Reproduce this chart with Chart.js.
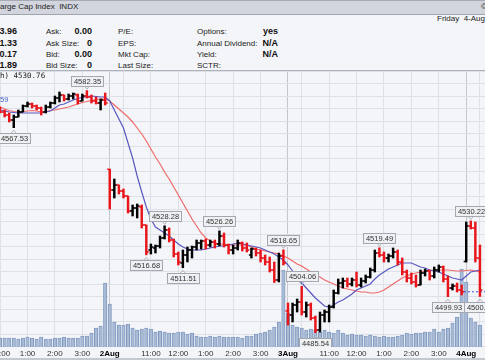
<!DOCTYPE html>
<html><head><meta charset="utf-8">
<script src="https://cdn.jsdelivr.net/npm/chart.js@4.4.1/dist/chart.umd.min.js"></script>
<style>
html,body{margin:0;padding:0;width:485px;height:360px;overflow:hidden;background:#f4f5f8;font-family:"Liberation Sans",Arial,sans-serif;}
#hdr{position:absolute;left:0;top:0;width:485px;height:13px;background:#d2d5dd;border-top:1px solid #a6aab3;border-bottom:1px solid #9fa4ad;}
.t{position:absolute;white-space:nowrap;color:#222;line-height:1;}
.l{font-size:8px;}
.v{font-size:9px;font-weight:bold;color:#111;text-align:right;width:40px;}
#sep{position:absolute;left:0;top:70px;width:485px;height:1px;background:#aeb2ba;}
#c{position:absolute;left:0;top:71px;}
#bot{position:absolute;left:0;top:358px;width:485px;height:2px;background:#c4c8d0;}
</style></head><body>
<div id="hdr"></div>
<div class="t l" style="left:0;top:3px;">arge Cap Index&nbsp;&nbsp;INDX</div>
<div class="t l" style="left:481px;top:3px;">©</div>
<div class="t l" style="left:437px;top:15px;">Friday&nbsp;&nbsp;4-Aug</div>

<div class="t v" style="left:-23px;top:27px;">3.96</div>
<div class="t v" style="left:-23px;top:39px;">1.33</div>
<div class="t v" style="left:-23px;top:50px;">0.17</div>
<div class="t v" style="left:-23px;top:61px;">1.89</div>

<div class="t l" style="left:46px;top:27.5px;">Ask:</div>
<div class="t l" style="left:46px;top:39.5px;">Ask Size:</div>
<div class="t l" style="left:46px;top:50.5px;">Bid:</div>
<div class="t l" style="left:46px;top:61.5px;">Bid Size:</div>
<div class="t v" style="left:52px;top:27px;">0.00</div>
<div class="t v" style="left:52px;top:39px;">0</div>
<div class="t v" style="left:52px;top:50px;">0.00</div>
<div class="t v" style="left:52px;top:61px;">0</div>

<div class="t l" style="left:118px;top:27.5px;">P/E:</div>
<div class="t l" style="left:118px;top:39.5px;">EPS:</div>
<div class="t l" style="left:118px;top:50.5px;">Mkt Cap:</div>
<div class="t l" style="left:118px;top:61.5px;">Last Size:</div>

<div class="t l" style="left:197px;top:27.5px;">Options:</div>
<div class="t l" style="left:197px;top:39.5px;">Annual Dividend:</div>
<div class="t l" style="left:197px;top:50.5px;">Yield:</div>
<div class="t l" style="left:197px;top:61.5px;">SCTR:</div>
<div class="t v" style="left:238px;top:27px;">yes</div>
<div class="t v" style="left:238px;top:39px;">N/A</div>
<div class="t v" style="left:238px;top:50px;">N/A</div>

<div id="sep"></div>
<canvas id="c" width="485" height="289"></canvas>
<div class="t" style="left:0;top:72px;font-size:7.5px;font-family:'DejaVu Sans Mono',monospace;color:#222;">h) 4530.76</div>
<div class="t" style="left:0;top:96px;font-size:7.5px;color:#4a67c8;">59</div>
<div id="bot"></div>
<script>
// ---- data (10-minute bars; slot 0 = 2-Aug 9:30) ----
const FIRST_BAR = -25;
const BARS_PER_DAY = 39;
const BARS_PER_HOUR = 6;
const dayLabels = ['1Aug', '2Aug', '3Aug', '4Aug'];
const dayNumbers = [-1, 0, 1, 2];
const hourLabels = ['', '11:00', '12:00', '1:00', '2:00', '3:00'];
const hoursAfterOpen = [0.5, 1.5, 2.5, 3.5, 4.5, 5.5];

const opens = [
 4575.4,4575.0,4573.8,4572.6,4570.6,4571.8,4573.8,4576.2,4577.0,4576.2,4575.4,4573.8,4575.8,4577.4,4579.4,4580.6,4579.0,4580.2,4580.6,4578.2,4580.2,4579.8,4578.2,4577.4,4578.6,
 4550.9,4542.6,4544.6,4542.2,4540.2,4534.2,4535.4,4535.8,4528.6,4518.6,4519.4,4520.2,4523.4,4526.6,4522.6,4517.0,4513.4,4516.6,4518.6,4519.8,4521.4,4522.2,4520.6,4521.8,4521.0,4524.2,4520.6,4518.6,4519.4,4521.4,4519.4,4516.6,4519.0,4517.4,4515.4,4513.8,4510.6,4506.6,4516.2,
 4494.2,4492.6,4496.6,4497.8,4493.8,4496.6,4491.4,4486.6,4492.6,4493.8,4495.8,4501.4,4505.4,4506.2,4505.0,4506.6,4504.6,4506.2,4507.8,4510.6,4517.4,4516.6,4515.4,4516.2,4517.8,4513.8,4509.8,4507.4,4505.8,4504.6,4509.4,4510.2,4508.2,4510.6,4511.8,4507.0,4503.4,4504.2,4502.6,
 4513.96,4528.2,4527.4,4515.4];
const highs = [
 4576.6,4575.8,4574.6,4573.4,4572.6,4574.6,4576.6,4577.8,4577.4,4576.6,4575.8,4576.6,4577.8,4580.2,4581.8,4580.6,4581.0,4581.4,4581.0,4581.0,4582.35,4580.6,4579.8,4579.0,4581.4,
 4550.9,4547.0,4544.6,4543.0,4540.2,4536.6,4537.0,4536.6,4528.6,4521.0,4520.6,4524.2,4528.28,4527.4,4523.0,4517.8,4518.6,4519.8,4520.2,4522.6,4522.6,4523.0,4522.6,4522.6,4526.26,4525.4,4521.0,4520.6,4522.6,4521.8,4521.4,4519.4,4519.4,4518.6,4516.6,4515.8,4513.8,4517.4,4518.65,
 4497.4,4497.4,4499.0,4504.06,4497.8,4497.4,4492.2,4493.8,4494.6,4496.6,4502.6,4507.0,4507.4,4507.4,4507.4,4509.8,4507.4,4508.6,4511.4,4518.6,4519.49,4517.8,4517.0,4519.4,4518.6,4515.4,4510.6,4509.4,4508.6,4510.6,4511.0,4510.6,4511.8,4512.6,4512.2,4508.2,4505.0,4505.4,4504.6,
 4529.8,4530.22,4529.8,4520.6];
const lows = [
 4573.8,4573.4,4571.8,4569.8,4567.53,4571.8,4573.8,4575.8,4575.4,4574.6,4572.6,4573.4,4575.4,4577.0,4577.8,4578.2,4578.6,4579.0,4577.0,4578.2,4579.4,4577.4,4577.0,4574.6,4576.6,
 4535.0,4539.4,4541.0,4539.4,4533.4,4532.2,4531.4,4527.4,4516.68,4517.0,4517.4,4519.4,4523.0,4521.8,4515.8,4512.6,4511.51,4513.8,4515.4,4518.6,4519.0,4519.0,4519.8,4519.4,4520.2,4519.8,4517.0,4517.0,4518.6,4518.2,4517.8,4515.4,4516.2,4513.8,4512.6,4509.8,4505.6,4505.8,4512.6,
 4488.6,4489.8,4493.8,4492.6,4491.8,4490.6,4485.54,4485.8,4489.8,4489.8,4495.4,4501.0,4503.4,4503.8,4504.2,4503.8,4503.8,4505.4,4507.4,4509.8,4515.8,4513.8,4513.8,4515.4,4512.6,4508.6,4505.8,4505.0,4503.8,4504.6,4508.2,4506.6,4507.4,4509.8,4505.8,4499.93,4502.6,4501.8,4500.6,
 4513.8,4527.0,4513.8,4500.0];
const closes = [
 4574.6,4573.8,4572.6,4570.6,4571.8,4573.8,4576.2,4577.0,4576.2,4575.4,4573.8,4575.8,4577.4,4579.4,4580.6,4579.0,4580.2,4581.0,4578.2,4580.2,4579.8,4578.2,4577.4,4578.6,4577.4,
 4542.6,4544.6,4542.2,4540.2,4534.2,4535.4,4536.2,4528.6,4517.8,4519.8,4520.2,4523.4,4526.6,4522.6,4517.0,4513.8,4516.6,4518.6,4519.8,4521.4,4522.2,4520.6,4521.8,4521.0,4524.2,4520.6,4518.6,4519.4,4521.4,4519.4,4518.6,4519.0,4517.4,4515.4,4513.8,4510.6,4506.6,4516.2,4513.4,
 4492.6,4496.6,4497.8,4493.8,4496.6,4491.4,4486.6,4492.6,4493.8,4495.8,4501.4,4505.4,4506.2,4505.0,4506.6,4504.6,4506.2,4507.8,4510.6,4517.4,4516.6,4515.4,4516.2,4517.8,4513.8,4509.8,4507.4,4505.8,4504.6,4509.4,4510.2,4508.2,4510.6,4511.8,4507.0,4503.4,4504.2,4502.6,4501.89,
 4528.2,4527.4,4515.4,4502.6];
const volumes = [
 18,18,18,18,18,16,18,20,18,16,20,16,16,18,18,20,18,18,18,22,22,28,38,42,128,
 86,50,44,44,46,38,34,36,38,36,30,32,30,28,28,30,30,26,28,22,20,20,22,20,22,20,20,20,20,18,22,22,26,28,30,34,40,50,154,
 68,44,40,38,34,36,34,30,34,30,28,34,28,24,26,24,24,22,24,22,20,22,20,20,22,24,28,26,28,28,30,30,36,30,36,38,48,60,156,
 130,58,50,44];
const maFast = [
 4575.0,4574.6,4574.2,4573.8,4573.6,4573.4,4573.4,4573.4,4573.4,4573.4,4573.4,4573.8,4574.2,4575.4,4576.6,4577.0,4577.8,4578.6,4579.2,4579.6,4580.0,4580.2,4580.0,4579.8,4579.8,
 4578.2,4574.6,4571.0,4567.4,4561.4,4555.4,4548.2,4541.8,4535.8,4531.0,4527.8,4526.6,4525.4,4524.2,4522.6,4521.0,4519.8,4519.0,4518.6,4518.6,4518.6,4519.0,4519.4,4519.8,4520.2,4520.2,4520.6,4521.0,4521.4,4521.0,4520.6,4520.2,4519.8,4519.4,4518.6,4517.8,4517.0,4515.8,4514.6,
 4512.6,4510.2,4507.4,4505.4,4503.4,4501.4,4499.4,4497.8,4496.2,4495.8,4496.6,4497.8,4498.6,4499.8,4501.0,4502.6,4503.4,4504.2,4505.0,4507.0,4508.6,4509.8,4511.0,4511.8,4512.6,4513.4,4513.4,4513.4,4512.6,4511.8,4511.4,4510.6,4510.2,4509.8,4509.0,4508.2,4507.4,4507.0,4506.6,
 4508.2,4509.8,4510.2,4510.6];
const maSlow = [
 4576.2,4575.8,4575.0,4574.4,4574.0,4573.8,4574.0,4574.2,4574.4,4574.2,4573.8,4574.0,4574.4,4574.6,4575.0,4575.4,4575.8,4576.4,4577.0,4577.6,4578.0,4578.4,4578.8,4579.0,4579.0,
 4578.2,4576.6,4575.0,4573.4,4571.8,4569.8,4567.4,4565.0,4562.2,4559.0,4555.8,4553.0,4549.8,4547.0,4543.8,4540.6,4537.4,4534.2,4531.0,4528.2,4525.4,4523.4,4522.2,4521.4,4521.0,4521.0,4520.6,4520.6,4520.6,4520.6,4520.6,4519.8,4519.0,4518.6,4518.2,4517.8,4517.4,4517.0,4516.2,
 4515.4,4514.2,4513.0,4512.2,4511.0,4509.8,4508.6,4507.8,4506.6,4505.8,4505.0,4504.2,4503.4,4503.0,4502.6,4502.2,4501.8,4501.8,4501.4,4501.4,4501.8,4502.6,4503.8,4505.0,4506.2,4507.4,4508.2,4509.0,4509.4,4509.8,4510.2,4510.4,4510.6,4510.6,4510.6,4510.6,4510.4,4510.2,4510.2,
 4510.4,4510.6,4510.2,4509.8];
const prevClose = 4501.89;
const calloutBars   = [-5, -21, 12, 8, 16, 24, 38, 42, 45, 59, 74, 79, 81];
const calloutValues = [4582.35, 4567.53, 4528.28, 4516.68, 4511.51, 4526.26, 4518.65, 4504.06, 4485.54, 4519.49, 4499.93, 4530.22, 4500.00];
const calloutSides  = ['high','low','high','low','low','high','high','high','low','high','low','high','low'];

// ---- build ----
const RED = '#e8151b', BLK = '#000000';
const slots = opens.map((_, i) => FIRST_BAR + i);
const barColors = closes.map((c, i) => (i === 0 ? c >= opens[0] : c >= closes[i - 1]) ? BLK : RED);

const tickVals = [], tickLbls = [], tickIsDay = [];
dayNumbers.forEach((d, k) => {
  tickVals.push(d * BARS_PER_DAY); tickLbls.push(dayLabels[k]); tickIsDay.push(true);
  hoursAfterOpen.forEach((h, j) => {
    tickVals.push(d * BARS_PER_DAY + h * BARS_PER_HOUR); tickLbls.push(hourLabels[j]); tickIsDay.push(false);
  });
});
const X_MIN = -24.015, X_MAX = 82.11;
const keep = tickVals.map(v => v >= X_MIN - 3 && v <= X_MAX + 3);
const tv = tickVals.filter((_, i) => keep[i]);
const tl = tickLbls.filter((_, i) => keep[i]);
const td = tickIsDay.filter((_, i) => keep[i]);

const fam = '"Liberation Sans", Arial, sans-serif';

const ohlcTicks = {
  id: 'ohlcTicks',
  afterDatasetsDraw(chart) {
    const {ctx, chartArea: a, scales: {x, y}} = chart;
    ctx.save();
    ctx.beginPath(); ctx.rect(a.left, a.top, a.right - a.left, a.bottom - a.top); ctx.clip();
    ctx.lineWidth = 1.5;
    slots.forEach((s, i) => {
      const px = x.getPixelForValue(s);
      ctx.strokeStyle = barColors[i];
      const yo = y.getPixelForValue(opens[i]), yc = y.getPixelForValue(closes[i]);
      ctx.beginPath();
      ctx.moveTo(px - 2.5, yo); ctx.lineTo(px, yo);
      ctx.moveTo(px, yc); ctx.lineTo(px + 2.5, yc);
      ctx.stroke();
    });
    ctx.restore();
  }
};

const callouts = {
  id: 'callouts',
  afterDatasetsDraw(chart) {
    const {ctx, chartArea: a, scales: {x, y}} = chart;
    ctx.save();
    ctx.beginPath(); ctx.rect(a.left, a.top, a.right - a.left, a.bottom - a.top); ctx.clip();
    ctx.font = '7.5px ' + fam;
    ctx.textBaseline = 'middle';
    ctx.textAlign = 'center';
    calloutBars.forEach((b, i) => {
      const txt = calloutValues[i].toFixed(2);
      const px = x.getPixelForValue(b), py = y.getPixelForValue(calloutValues[i]);
      const w = ctx.measureText(txt).width + 5, h = 10;
      const high = calloutSides[i] === 'high';
      const top = high ? py - 5 - h : py + 5;
      ctx.fillStyle = '#eef0f3'; ctx.strokeStyle = '#a4a7ad'; ctx.lineWidth = 1;
      ctx.fillRect(Math.round(px - w / 2) + 0.5, Math.round(top) + 0.5, Math.round(w), h);
      ctx.strokeRect(Math.round(px - w / 2) + 0.5, Math.round(top) + 0.5, Math.round(w), h);
      ctx.beginPath();
      if (high) { ctx.moveTo(px - 2.5, top + h + 0.5); ctx.lineTo(px, top + h + 3.5); ctx.lineTo(px + 2.5, top + h + 0.5); }
      else { ctx.moveTo(px - 2.5, top + 0.5); ctx.lineTo(px, top - 2.5); ctx.lineTo(px + 2.5, top + 0.5); }
      ctx.strokeStyle = '#b0b3b8'; ctx.stroke();
      ctx.fillStyle = '#333';
      ctx.fillText(txt, Math.round(px - w / 2) + 0.5 + Math.round(w) / 2, Math.round(top) + 0.5 + h / 2 + 0.5);
    });
    ctx.restore();
  }
};

new Chart(document.getElementById('c'), {
  type: 'line',
  data: {
    datasets: [
      { type: 'bar', label: 'Volume', yAxisID: 'yv', order: 10, grouped: false,
        data: slots.map((s, i) => ({x: s, y: volumes[i]})),
        backgroundColor: '#a7bad6', borderColor: '#7892ba', borderWidth: 0.8,
        barThickness: 3.4 },
      { type: 'line', label: 'MA slow', order: 4,
        data: slots.map((s, i) => ({x: s, y: maSlow[i]})),
        borderColor: '#f06a6a', borderWidth: 1.2, pointRadius: 0, tension: 0 },
      { type: 'line', label: 'MA fast', order: 3,
        data: slots.map((s, i) => ({x: s, y: maFast[i]})),
        borderColor: '#5858c0', borderWidth: 1.2, pointRadius: 0, tension: 0 },
      { type: 'line', label: 'Prev close', order: 2,
        data: [{x: 2 * BARS_PER_DAY - 0.5, y: prevClose}, {x: X_MAX + 1, y: prevClose}],
        borderColor: '#3a4de0', borderWidth: 1, borderDash: [2, 2], pointRadius: 0 },
      { type: 'bar', label: 'Range', order: 1, grouped: false,
        data: slots.map((s, i) => ({x: s, y: [lows[i], highs[i]]})),
        backgroundColor: barColors, borderWidth: 0, barThickness: 1.8 }
    ]
  },
  options: {
    responsive: false, animation: false, devicePixelRatio: 1,
    layout: { padding: 0 },
    plugins: { legend: { display: false }, tooltip: { enabled: false } },
    scales: {
      x: {
        type: 'linear', min: X_MIN, max: X_MAX, offset: false,
        afterBuildTicks: s => { s.ticks = tv.map(v => ({value: v})); },
        afterFit: s => { s.height = 13; s.paddingLeft = 0; s.paddingRight = 0; },
        grid: { offset: false, drawTicks: false,
          color: c => td[c.index] ? '#c2c6ce' : '#dde0e6', lineWidth: 1 },
        border: { display: false },
        ticks: { autoSkip: false, maxRotation: 0, padding: 2,
          callback: (v, i) => tl[i],
          color: c => td[c.index] ? '#000' : '#333',
          font: c => ({ family: fam, size: 8, weight: td[c.index] ? 'bold' : 'normal' }) }
      },
      y: {
        type: 'linear', position: 'right', min: 4479.8, max: 4590.2,
        afterBuildTicks: s => { const t = []; for (let v = 4480; v <= 4590; v += 5) t.push({value: v}); s.ticks = t; },
        afterFit: s => { s.width = 0; },
        grid: { color: '#dde0e6', drawTicks: false },
        border: { display: false },
        ticks: { display: false }
      },
      yv: { type: 'linear', display: false, min: 0, max: 552 }
    }
  },
  plugins: [ohlcTicks, callouts]
});
</script>
</body></html>
